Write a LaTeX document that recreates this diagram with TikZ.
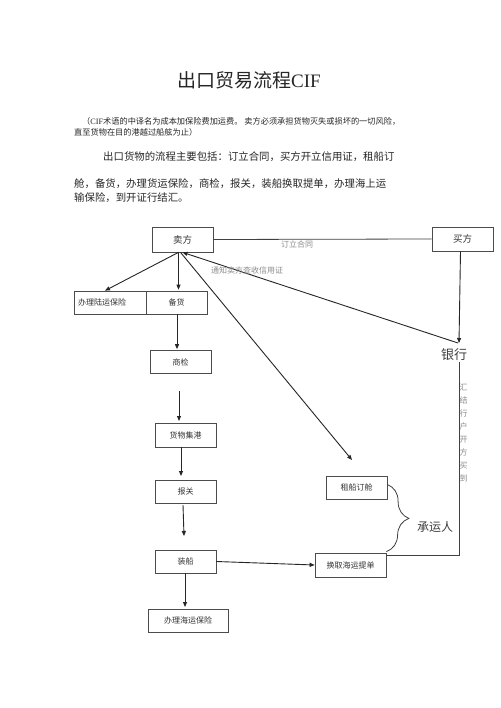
\documentclass[tikz,border=0pt]{standalone}
\usepackage{fontspec}
\newfontfamily\cjk{Noto Sans CJK SC}
\newfontfamily\serifl{Liberation Serif}
\usetikzlibrary{arrows.meta,decorations.pathreplacing}
\begin{document}
\begin{tikzpicture}[x=1pt,y=-1pt,
  box/.style={draw=black!70,line width=0.7pt,inner sep=0pt,minimum width=61pt,minimum height=23pt,font=\cjk\fontsize{8}{9}\selectfont,text=black!80},
  arr/.style={-{Triangle[length=5pt,width=4pt]},line width=0.9pt,draw=black!85},
  plain/.style={line width=0.8pt,draw=black!75},
  lbl/.style={font=\cjk\fontsize{8}{9}\selectfont,text=black!45,inner sep=0pt},
  txt/.style={anchor=west,inner sep=0pt,text=black!85}]
\useasboundingbox[fill=white] (0,0) rectangle (500,708);
% title and text
\node[inner sep=0pt,font=\cjk\fontsize{19}{22}\selectfont,text=black!85] (title) at (249,80) {出口贸易流程{\serifl CIF}};
\node[txt,font=\cjk\fontsize{8.2}{10}\selectfont] (p1) at (82,121) {（{\serifl CIF}术语的中译名为成本加保险费加运费。 卖方必须承担货物灭失或损坏的一切风险，};
\node[txt,font=\cjk\fontsize{8.2}{10}\selectfont] (p2) at (74,132) {直至货物在目的港越过船舷为止）};
\node[txt,font=\cjk\fontsize{10.4}{12}\selectfont] (q1) at (103,157) {出口货物的流程主要包括：订立合同，买方开立信用证，租船订};
\node[txt,font=\cjk\fontsize{10.4}{12}\selectfont] (q2) at (74,184) {舱，备货，办理货运保险，商检，报关，装船换取提单，办理海上运};
\node[txt,font=\cjk\fontsize{10.4}{12}\selectfont] (q3) at (74,198) {输保险，到开证行结汇。};
% boxes
\node[box,minimum height=25pt,font=\cjk\fontsize{9.5}{11}\selectfont] (seller) at (182.5,239.5) {卖方};
\node[box,minimum height=24pt,font=\cjk\fontsize{9.5}{11}\selectfont] (buyer) at (462.5,239) {买方};
\node[box,minimum width=72pt,text width=64pt,align=left] (land) at (110,302.5) {办理陆运保险};
\node[box] (stock) at (176.5,302.5) {备货};
\node[box] (inspect) at (180.5,362) {商检};
\node[box,minimum height=24pt] (port) at (185.5,435) {货物集港};
\node[box] (customs) at (185.5,491.5) {报关};
\node[box] (load) at (185.5,561.5) {装船};
\node[box,minimum width=80pt] (seains) at (188,620.5) {办理海运保险};
\node[box] (charter) at (356.5,487.5) {租船订舱};
\node[box,minimum width=71pt,minimum height=24pt] (bill) at (350.5,565) {换取海运提单};
\node[inner sep=0pt,font=\cjk\fontsize{13}{15}\selectfont,text=black!75] (bank) at (454,355) {银行};
\node[inner sep=0pt,font=\cjk\fontsize{12}{14}\selectfont,text=black!75] (carrier) at (435,527) {承运人};
% coordinates
\coordinate (bankTop) at (459,343);
\coordinate (chTip) at (352,460);
\coordinate (a1) at (179,391);
\coordinate (a2) at (179,421);
\coordinate (b1) at (181,447);
\coordinate (b2) at (181,476);
\coordinate (c1) at (183,505);
\coordinate (c2) at (184,536);
\coordinate (d1) at (185,573);
\coordinate (d2) at (185,607);
\coordinate (bk1) at (459,362);
\coordinate (bk2) at (459,555);
% connectors
\draw[plain] (seller.east) -- (buyer.west);
\node[lbl] (contract) at (297,244) {订立合同};
\draw[arr] ([xshift=-4pt]seller.south) -- ([xshift=-5pt]land.north);
\draw[arr] ([xshift=-4pt]seller.south) -- ([xshift=2pt,yshift=1pt]stock.north);
\draw[arr] ([xshift=-2pt]seller.south) -- (chTip);
\draw[arr] ([xshift=-2pt]buyer.south) -- (bankTop);
\draw[arr] ([xshift=-1pt]bankTop) -- (seller.south);
\node[lbl] (notify) at (247,270) {通知卖方查收信用证};
\draw[arr] ([xshift=0.5pt]stock.south) -- ([xshift=-3.5pt,yshift=1pt]inspect.north);
\draw[arr] (a1) -- (a2);
\draw[arr] (b1) -- (b2);
\draw[arr] (c1) -- (c2);
\draw[arr] (load.east) -- (bill.west);
\draw[arr] (d1) -- (d2);
\draw[plain] (bk1) -- (bk2) -- (bk2 -| bill.east);
\node[lbl,align=center,font=\cjk\fontsize{8}{13}\selectfont] (vtext) at (463.5,432.5) {汇\\结\\行\\户\\开\\方\\买\\到};
\draw[plain,decorate,decoration={brace,amplitude=22pt}] ([yshift=3pt]charter.east) -- ([yshift=1pt]bill.north east);
\end{tikzpicture}
\end{document}
